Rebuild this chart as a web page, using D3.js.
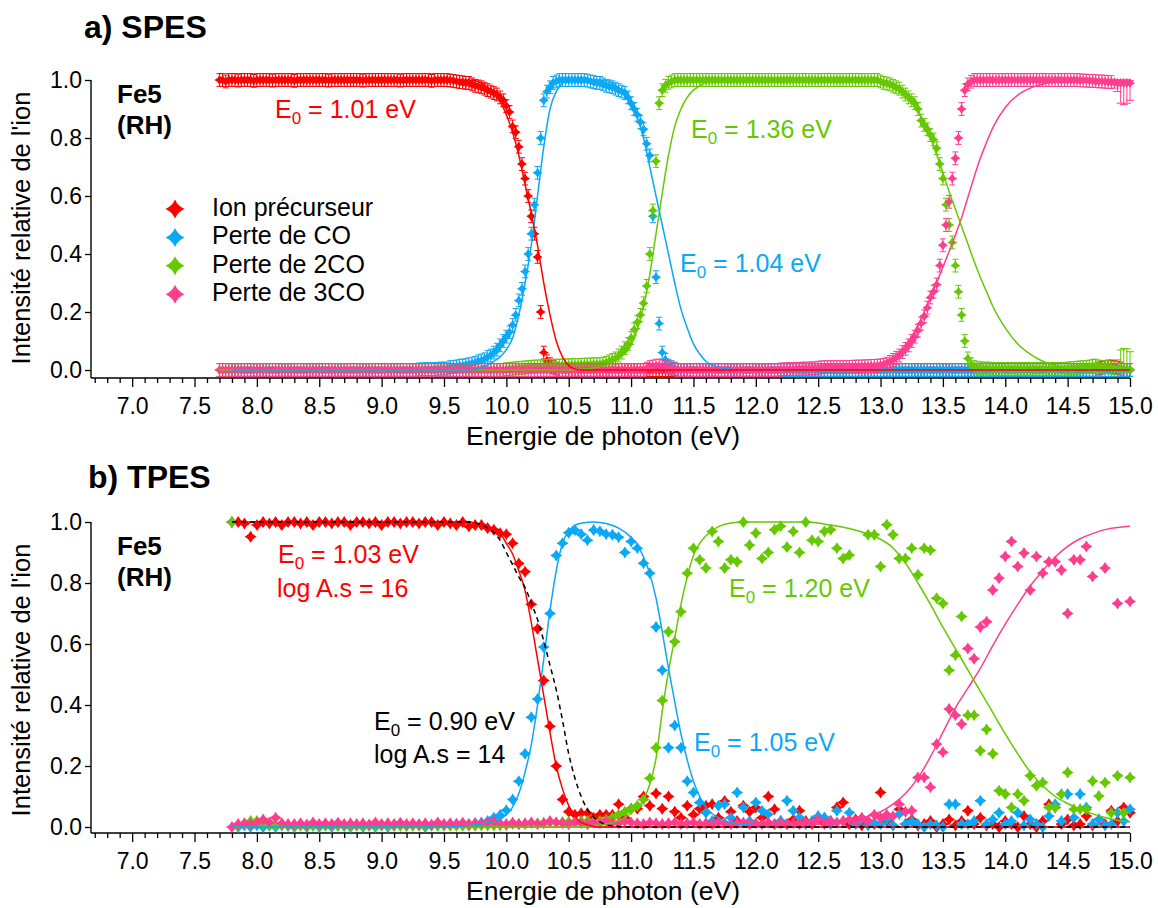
<!DOCTYPE html>
<html><head><meta charset="utf-8">
<script src="https://cdn.jsdelivr.net/npm/d3@7"></script>
<style>body{margin:0;background:#fff}svg{display:block}</style>
</head><body><svg id="chart" width="1158" height="908"></svg>
<script>
// ================= DATA =================
const seriesNames = ["Ion précurseur","Perte de CO","Perte de 2CO","Perte de 3CO"];
const xTickLabels = ["7.0","7.5","8.0","8.5","9.0","9.5","10.0","10.5","11.0","11.5","12.0","12.5","13.0","13.5","14.0","14.5","15.0"];
const yTickLabels = ["0.0","0.2","0.4","0.6","0.8","1.0"];

// ---- a) SPES : photon energies (eV)
const spesEnergy = [
7.7,7.725,7.75,7.775,7.8,7.825,7.85,7.875,7.9,7.925,7.95,7.975,
8,8.025,8.05,8.075,8.1,8.125,8.15,8.175,8.2,8.225,8.25,8.275,8.3,8.325,8.35,8.375,8.4,8.425,8.45,8.475,8.5,8.525,8.55,8.575,8.6,8.625,8.65,8.675,8.7,8.725,8.75,8.775,8.8,8.825,8.85,8.875,8.9,8.925,8.95,8.975,
9,9.025,9.05,9.075,9.1,9.125,9.15,9.175,9.2,9.225,9.25,9.275,9.3,9.325,9.35,9.375,9.4,9.425,9.45,9.475,9.5,9.525,9.55,9.575,9.6,9.625,9.65,9.675,9.7,9.725,9.75,9.775,9.8,9.825,9.85,9.875,9.9,9.925,9.95,9.975,
10,10.025,10.05,10.075,10.1,10.125,10.15,10.175,10.2,10.225,10.25,10.275,10.3,10.325,10.35,10.375,10.4,10.425,10.45,10.475,10.5,10.525,10.55,10.575,10.6,10.625,10.65,10.675,10.7,10.725,10.75,10.775,10.8,10.825,10.85,10.875,10.9,10.925,10.95,10.975,
11,11.025,11.05,11.075,11.1,11.125,11.15,11.175,11.2,11.225,11.25,11.275,11.3,11.325,11.35,11.375,11.4,11.425,11.45,11.475,11.5,11.525,11.55,11.575,11.6,11.625,11.65,11.675,11.7,11.725,11.75,11.775,11.8,11.825,11.85,11.875,11.9,11.925,11.95,11.975,
12,12.025,12.05,12.075,12.1,12.125,12.15,12.175,12.2,12.225,12.25,12.275,12.3,12.325,12.35,12.375,12.4,12.425,12.45,12.475,12.5,12.525,12.55,12.575,12.6,12.625,12.65,12.675,12.7,12.725,12.75,12.775,12.8,12.825,12.85,12.875,12.9,12.925,12.95,12.975,
13,13.025,13.05,13.075,13.1,13.125,13.15,13.175,13.2,13.225,13.25,13.275,13.3,13.325,13.35,13.375,13.4,13.425,13.45,13.475,13.5,13.525,13.55,13.575,13.6,13.625,13.65,13.675,13.7,13.725,13.75,13.775,13.8,13.825,13.85,13.875,13.9,13.925,13.95,13.975,
14,14.025,14.05,14.075,14.1,14.125,14.15,14.175,14.2,14.225,14.25,14.275,14.3,14.325,14.35,14.375,14.4,14.425,14.45,14.475,14.5,14.525,14.55,14.575,14.6,14.625,14.65,14.675,14.7,14.725,14.75,14.775,14.8,14.825,14.85,14.875,14.9,14.925,14.95,14.975,
15];

const spesIon = [
1,1,0.995,1,1,1,0.998,1,1,1,1,0.997,
1,1,1,1,1,0.998,1,1,1,1,1,1,0.997,1,1,1,1,1,1,1, 1,1,1,0.998,1,1,1,1,1,1,1,1,1,1,0.998,1,1,1,1,1,
1,1,1,1,1,1,0.998,1,1,1,1,1,1,1,1,1,0.997,1,1,1, 1,1,0.998,0.997,0.995,0.993,0.992,0.99,0.99,0.985,0.98,0.978,0.975,0.97,0.965,0.96,0.955,0.95,0.94,0.93,
0.91,0.89,0.84,0.82,0.77,0.71,0.66,0.6,0.53,0.47,0.39,0.2,0.06,0.03,0.02,0.01,0.005,0,0,0, 0,0,0,0,0,0,0,0,0,0,0,0,0,0,0,0,0,0,0,0,
0,0,0,0,0,0,0,0,0,0,0,0,0,0,0,0,0,0,0,0, 0,0,0,0,0,0,0,0,0,0,0,0,0,0,0,0,0,0,0,0,
0,0,0,0,0,0,0,0,0,0,0,0,0,0,0,0,0,0,0,0, 0,0,0,0,0,0,0,0,0,0,0,0,0,0,0,0,0,0,0,0,
0,0,0,0,0,0,0,0,0,0,0,0,0,0,0,0,0,0,0,0, 0,0,0,0,0,0,0,0,0,0,0,0,0,0,0,0,0,0,0,0,
0,0,0,0,0,0,0,0,0,0,0,0,0,0,0,0,0,0,0,0, 0,0,0,0,0,0,0,0,0,0,0.005,0.008,0.01,0.012,0.012,0.01,0.008,0.005,0,0,
0];

const spesCO = [
null,null,null,null,0,0,0,0,0,0,0,0,
0,0,0,0,0,0,0,0,0,0,0,0,0,0,0,0,0,0,0,0, 0,0,0,0,0,0,0,0,0,0,0,0,0,0,0,0,0,0,0,0,
0,0,0,0,0,0,0,0,0,0,0,0,0.002,0.002,0.003,0.003,0.003,0.004,0.004,0.005, 0.005,0.005,0.01,0.01,0.012,0.015,0.015,0.017,0.02,0.022,0.025,0.03,0.033,0.037,0.045,0.05,0.06,0.07,0.085,0.1,
0.115,0.13,0.155,0.19,0.24,0.28,0.34,0.4,0.47,0.57,0.68,0.8,0.93,0.96,0.975,0.99,0.995,1,1,1, 1,1,1,1,1,1,0.998,0.995,0.993,0.99,0.99,0.985,0.98,0.978,0.975,0.97,0.965,0.96,0.955,0.94,
0.92,0.9,0.88,0.855,0.83,0.78,0.74,0.53,0.32,0.16,0.06,0.035,0.015,0.01,0.005,0,0,0,0,0, 0,0,0,0,0,0,0,0,0,0,0,0,0,0,0,0,0,0,0,0,
0,0,0,0,0,0,0,0,0,0,0,0,0,0,0,0,0,0,0,0, 0,0,0,0,0,0,0,0,0,0,0,0,0,0,0,0,0,0,0,0,
0,0,0,0,0,0,0,0,0,0,0,0,0,0,0,0,0,0,0,0, 0,0,0,0,0,0,0,0,0,0,0,0,0,0,0,0,0,0,0,0,
0,0,0,0,0,0,0,0,0,0,0,0,0,0,0,0,0,0,0,0, 0,0,0,0,0,0,0,0,0,0,0,0,0,0,0,0,0,0,0,0,
0];

const spes2CO = [
0,0,0,0,0,0,0,0,0,0,0,0,
0,0,0,0,0,0,0,0,0,0,0,0,0,0,0,0,0,0,0,0, 0,0,0,0,0,0,0,0,0,0,0,0,0,0,0,0,0,0,0,0,
0,0,0,0,0,0,0,0,0,0,0,0,0,0,0,0,0,0,0,0, 0,0,0,0,0,0,0,0,0,0,0,0,0,0,0,0,0,0,0,0,
0.003,0.004,0.005,0.006,0.007,0.008,0.009,0.01,0.011,0.012,0.012,0.013,0.013,0.014,0.014,0.015,0.015,0.015,0.016,0.016, 0.016,0.017,0.017,0.017,0.018,0.018,0.019,0.019,0.02,0.02,0.02,0.022,0.025,0.03,0.035,0.04,0.05,0.06,0.075,0.09,
0.11,0.14,0.165,0.19,0.23,0.29,0.4,0.55,0.72,0.92,0.965,0.98,0.99,0.995,1,1,1,1,1,1, 1,1,1,1,1,1,1,1,1,1,1,1,1,1,1,1,1,1,1,1,
1,1,1,1,1,1,1,1,1,1,1,1,1,1,1,1,1,1,1,1, 1,1,1,1,1,1,1,1,1,1,1,1,1,1,1,1,1,1,1,1,
0.995,0.99,0.988,0.985,0.98,0.975,0.97,0.96,0.95,0.94,0.93,0.92,0.9,0.86,0.845,0.83,0.81,0.795,0.765,0.71, 0.66,0.57,0.5,0.44,0.36,0.27,0.19,0.1,0.04,0.02,0.01,0.008,0.006,0.005,0.005,0.005,0.004,0.004,0.004,0.004,
0.004,0.004,0.004,0.004,0.004,0.004,0.004,0.004,0.004,0.004,0.004,0.004,0.004,0.004,0.004,0.004,0.004,0.004,0.004,0.004, 0.005,0.006,0.007,0.008,0.009,0.01,0.01,0.012,0.015,0.015,0.012,0.01,0.01,0.01,0.008,0.006,0.005,0.004,0.004,0.003,
0.003];

const spes3CO = [
0,0,0,0,0,0,0,0,0,0,0,0,
0,0,0,0,0,0,0,0,0,0,0,0,0,0,0,0,0,0,0,0, 0,0,0,0,0,0,0,0,0,0,0,0,0,0,0,0,0,0,0,0,
0,0,0,0,0,0,0,0,0,0,0,0,0,0,0,0,0,0,0,0, 0,0,0,0,0,0,0,0,0,0,0,0,0,0,0,0,0,0,0,0,
0,0,0,0,0,0,0,0,0,0,0,0,0,0,0,0,0,0,0,0, 0,0,0,0,0,0,0,0,0,0,0,0,0,0,0,0,0,0,0,0,
0,0,0,0,0,0.005,0.01,0.012,0.015,0.015,0.012,0.01,0.008,0.005,0.003,0,0,0,0,0, 0,0,0,0,0,0,0,0,0,0,0,0,0,0,0,0,0,0,0,0,
0,0,0,0,0,0,0,0,0.002,0.002,0.003,0.003,0.003,0.004,0.004,0.005,0.005,0.005,0.006,0.006, 0.008,0.009,0.01,0.01,0.01,0.01,0.01,0.01,0.01,0.01,0.011,0.011,0.012,0.012,0.012,0.013,0.013,0.014,0.014,0.015,
0.016,0.018,0.022,0.028,0.035,0.042,0.05,0.062,0.073,0.085,0.1,0.115,0.135,0.16,0.185,0.215,0.25,0.27,0.295,0.36, 0.43,0.5,0.58,0.66,0.73,0.8,0.9,0.965,0.985,0.994,1,1,1,1,1,1,1,1,1,1,
1,1,1,1,1,1,1,1,1,1,1,1,1,1,1,1,1,1,1,1, 1,1,1,1,0.999,0.998,0.998,0.997,0.997,0.996,0.995,0.995,0.994,0.993,0.993,0.992,0.99,0.99,0.99,0.99,
0.99];

// large error bars at the end of the SPES scan: [series, energy, down, up]
const spesLargeErr = [
["3CO",14.875,0.02,0.005],["3CO",14.9,0.03,0.005],["3CO",14.925,0.07,0.008],["3CO",14.95,0.075,0.008],["3CO",14.975,0.07,0.008],["3CO",15,0.06,0.008],
["2CO",14.9,0.003,0.03],["2CO",14.925,0.003,0.065],["2CO",14.95,0.003,0.07],["2CO",14.975,0.003,0.07],["2CO",15,0.003,0.06]];

// fitted curves (energy, relative intensity)
const spesFitIon = [[7.7,1],[9.7,1],[9.8,0.99],[9.85,0.975],[9.9,0.955],[9.95,0.925],[10,0.88],[10.05,0.82],[10.1,0.74],[10.15,0.64],[10.2,0.54],[10.25,0.43],[10.3,0.3],[10.35,0.19],[10.4,0.1],[10.45,0.045],[10.5,0.015],[10.55,0.003],[10.6,0],[15,0]];
const spesFitCO = [[7.8,0],[9.7,0],[9.8,0.008],[9.9,0.03],[9.95,0.045],[10,0.07],[10.05,0.11],[10.1,0.19],[10.15,0.3],[10.2,0.43],[10.25,0.6],[10.3,0.77],[10.35,0.9],[10.4,0.96],[10.45,0.99],[10.5,1],[10.75,1],[10.85,0.99],[10.95,0.95],[11,0.92],[11.05,0.87],[11.1,0.8],[11.15,0.7],[11.2,0.6],[11.25,0.5],[11.3,0.4],[11.35,0.3],[11.4,0.21],[11.45,0.145],[11.5,0.09],[11.55,0.055],[11.6,0.03],[11.7,0.01],[11.8,0.002],[11.9,0],[15,0]];
const spesFit2CO = [[7.7,0],[10.4,0],[10.6,0.003],[10.7,0.007],[10.8,0.017],[10.9,0.04],[11,0.085],[11.05,0.14],[11.1,0.22],[11.15,0.33],[11.2,0.47],[11.25,0.61],[11.3,0.74],[11.35,0.84],[11.4,0.9],[11.45,0.94],[11.5,0.965],[11.55,0.98],[11.6,0.992],[11.7,1],[13,1],[13.1,0.99],[13.2,0.95],[13.3,0.895],[13.4,0.8],[13.5,0.68],[13.55,0.615],[13.6,0.555],[13.65,0.495],[13.7,0.435],[13.75,0.375],[13.8,0.32],[13.85,0.27],[13.9,0.22],[14,0.145],[14.1,0.09],[14.2,0.055],[14.3,0.03],[14.4,0.015],[14.5,0.007],[14.6,0.003],[14.7,0],[15,0]];
const spesFit3CO = [[7.7,0],[12.4,0],[12.7,0.004],[12.9,0.012],[13,0.024],[13.1,0.045],[13.2,0.085],[13.3,0.155],[13.4,0.25],[13.5,0.355],[13.6,0.465],[13.65,0.525],[13.7,0.595],[13.75,0.665],[13.8,0.73],[13.85,0.785],[13.9,0.835],[14,0.905],[14.1,0.948],[14.2,0.972],[14.3,0.986],[14.4,0.994],[14.5,0.998],[14.6,1],[15,1]];
const spesE0 = ["1.01","1.04","1.36"];

// ---- b) TPES : photon energies (eV)
const tpesEnergy = [
7.8,7.85,7.9,7.95,
8,8.05,8.1,8.15,8.2,8.25,8.3,8.35,8.4,8.45,8.5,8.55,8.6,8.65,8.7,8.75,8.8,8.85,8.9,8.95,
9,9.05,9.1,9.15,9.2,9.25,9.3,9.35,9.4,9.45,9.5,9.55,9.6,9.65,9.7,9.75,9.8,9.85,9.9,9.95,
10,10.05,10.1,10.15,10.2,10.25,10.3,10.35,10.4,10.45,10.5,10.55,10.6,10.65,10.7,10.75,10.8,10.85,10.9,10.95,
11,11.05,11.1,11.15,11.2,11.25,11.3,11.35,11.4,11.45,11.5,11.55,11.6,11.65,11.7,11.75,11.8,11.85,11.9,11.95,
12,12.05,12.1,12.15,12.2,12.25,12.3,12.35,12.4,12.45,12.5,12.55,12.6,12.65,12.7,12.75,12.8,12.85,12.9,12.95,
13,13.05,13.1,13.15,13.2,13.25,13.3,13.35,13.4,13.45,13.5,13.55,13.6,13.65,13.7,13.75,13.8,13.85,13.9,13.95,
14,14.05,14.1,14.15,14.2,14.25,14.3,14.35,14.4,14.45,14.5,14.55,14.6,14.65,14.7,14.75,14.8,14.85,14.9,14.95,
15];

const tpesIon = [
1,1,0.995,0.952,
0.99,1,0.995,1,0.99,1,1,0.995,1,0.99,1,1,0.995,1,1,0.99,1,1,0.995,1,
0.99,1,1,0.995,1,1,0.995,1,1,0.99,1,0.995,0.99,1,0.985,0.99,0.99,0.98,0.975,0.963,
0.96,0.93,0.864,0.837,0.73,0.65,0.48,0.33,0.2,0.09,0.05,0.04,0.045,0.045,0.03,0.04,0.04,0.04,0.075,0.03,
0.06,0.06,0.1,0.07,0.11,0.06,0.1,0.05,0.03,0.07,0.04,0.06,0.07,0.075,0.03,0.085,0.05,0.02,0.07,0.05,
0.064,0.03,0.1,0.058,0.02,0.01,0.025,0.053,0.02,0.01,0.03,0.015,0.02,0.064,0.08,0.01,0.025,0.005,0.02,0.01,
0.113,0.02,0.005,0.058,0.01,0.025,0.005,0.01,0.02,0,0.01,0.025,0.005,0.02,0.053,0.01,0.03,0.005,0.01,0,
0.02,0.01,0,0.036,0.01,0,0.02,0.075,0.064,0.01,0.025,0.005,0.01,0.036,0.005,0.025,0.01,0.053,0.02,0.064,
0.047];

const tpesCO = [
1,0,0.005,0,
0.005,0,0.004,0,0.005,0.003,0,0.005,0,0.004,0,0.005,0,0.004,0.003,0,0.005,0,0.004,0,
0.005,0,0.004,0.005,0.003,0.005,0.005,0,0.005,0.005,0.008,0.006,0.01,0.008,0.01,0.012,0.015,0.02,0.03,0.039,
0.055,0.09,0.15,0.24,0.36,0.42,0.59,0.7,0.89,0.93,0.965,0.974,0.96,0.94,0.974,0.97,0.96,0.958,0.95,0.9,
0.936,0.914,0.865,0.832,0.656,0.514,0.26,0.333,0.26,0.15,0.113,0.08,0.047,0.02,0.07,0.075,0.03,0.113,0.064,0.02,
0.08,0.053,0.042,0.01,0.02,0.086,0.053,0.031,0.01,0.02,0.036,0.031,0.01,0.053,0.02,0.047,0.01,0.025,0.005,0.014,
0.01,0.025,0.005,0.042,0.01,0.02,0.009,0,0.009,0.005,0,0.075,0.075,0.01,0.009,0.02,0.086,0.01,0.025,0.047,
0.009,0.02,0.047,0.005,0.025,0.01,0,0.036,0.075,0.02,0.108,0.03,0.108,0.064,0.01,0.025,0.005,0.009,0.047,0.02,
0.058];

const tpes2CO = [
1,0.005,0.01,0.02,
0.02,0.01,0.005,0.005,0.005,0.005,0.004,0.004,0.004,0.004,0.004,0.004,0.004,0.004,0.004,0.004,0.004,0.004,0.004,0.004,
0.004,0.004,0.004,0.004,0.004,0.004,0.004,0.004,0.004,0.004,0.004,0.004,0.004,0.004,0.004,0.004,0.005,0.005,0.005,0.005,
0.005,0.01,0.01,0.01,0.012,0.012,0.014,0.015,0.015,0.016,0.017,0.018,0.02,0.02,0.02,0.02,0.025,0.03,0.04,0.05,
0.06,0.07,0.09,0.16,0.26,0.415,0.64,0.607,0.706,0.832,0.914,0.876,0.849,0.969,0.936,0.849,0.876,0.87,1,0.925,
0.964,0.88,0.9,0.975,0.986,0.918,0.969,0.9,1,0.94,0.936,0.969,0.975,0.914,0.88,0.892,null,null,0.958,0.958,
0.854,0.991,0.958,0.88,0.88,0.914,0.827,0.914,0.907,0.75,0.733,0.514,0.563,0.69,0.366,0.366,0.25,0.32,0.24,0.119,
0.108,0.064,0.108,0.086,0.168,0.135,0.146,0.064,0.064,0.108,0.179,0.058,0.058,0.058,0.151,0.102,0.146,0.047,0.168,0.047,
0.162];

const tpes3CO = [
0,0.01,0.012,0.01,
0.015,0.025,0.015,0.03,0.012,0.01,0.01,0.012,0.008,0.015,0.01,0.012,0.01,0.014,0.01,0.012,0.01,0.012,0.008,0.015,
0.01,0.012,0.01,0.014,0.01,0.012,0.01,0.012,0.008,0.015,0.01,0.012,0.01,0.014,0.01,0.012,0.012,0.015,0.02,0.012,
0.01,0.015,0.01,0.012,0.015,0.01,0.012,0.02,0.015,0.012,0.01,0.015,0.012,0.01,0.015,0.012,0.02,0.015,0.012,0.02,
0.015,0.012,0.01,0.015,0.012,0.01,0.012,0.015,0.01,0.012,0.015,0.01,0.012,0.01,0.015,0.012,0.01,0.012,0.015,0.01,
0.012,0.01,0.015,0.01,0.012,0.01,0.012,0.01,0.015,0.012,0.025,0.01,0.02,0.015,0.02,0.025,0.02,0.03,0.02,0.04,
0.03,0.04,0.035,0.075,0.05,0.053,0.162,0.162,0.13,0.272,0.245,0.387,0.366,0.338,0.585,0.552,0.656,0.673,0.777,0.816,
0.887,0.936,0.854,0.898,0.777,0.887,0.832,0.87,0.87,0.843,0.7,0.876,0.876,0.92,0.821,null,0.849,null,0.733,null,
0.739];

const tpesFitIon = [[7.8,1],[9.7,1],[9.8,0.99],[9.9,0.975],[9.95,0.963],[10,0.93],[10.05,0.895],[10.1,0.84],[10.15,0.775],[10.2,0.67],[10.25,0.55],[10.3,0.43],[10.35,0.31],[10.4,0.2],[10.45,0.125],[10.5,0.07],[10.55,0.035],[10.6,0.015],[10.65,0.007],[10.7,0.002],[10.75,0],[15,0]];
const tpesFitIonAlt = [[7.8,1],[9.7,1],[9.8,0.99],[9.9,0.965],[9.95,0.94],[10,0.9],[10.05,0.86],[10.1,0.82],[10.15,0.785],[10.2,0.735],[10.25,0.68],[10.3,0.61],[10.35,0.53],[10.4,0.45],[10.45,0.35],[10.5,0.24],[10.55,0.16],[10.6,0.1],[10.65,0.058],[10.7,0.033],[10.75,0.017],[10.8,0.008],[10.9,0.002],[11,0],[15,0]];
const tpesFitCO = [[7.8,0],[9.5,0],[9.7,0.005],[9.8,0.01],[9.9,0.018],[9.95,0.025],[10,0.04],[10.05,0.065],[10.1,0.11],[10.15,0.18],[10.2,0.27],[10.25,0.4],[10.3,0.55],[10.35,0.71],[10.4,0.84],[10.45,0.93],[10.5,0.97],[10.55,0.99],[10.6,0.996],[10.7,1],[10.8,0.995],[10.9,0.98],[11,0.95],[11.05,0.925],[11.1,0.885],[11.15,0.83],[11.2,0.75],[11.25,0.64],[11.3,0.52],[11.35,0.41],[11.4,0.305],[11.45,0.22],[11.5,0.15],[11.55,0.1],[11.6,0.065],[11.7,0.03],[11.8,0.014],[11.9,0.008],[12,0.004],[12.2,0],[15,0]];
const tpesFit2CO = [[7.8,0],[10.5,0],[10.7,0.005],[10.8,0.01],[10.9,0.02],[11,0.045],[11.1,0.09],[11.15,0.14],[11.2,0.225],[11.25,0.38],[11.3,0.51],[11.35,0.62],[11.4,0.73],[11.45,0.82],[11.5,0.89],[11.55,0.93],[11.6,0.955],[11.7,0.985],[11.8,0.997],[11.9,1],[12.4,1],[12.6,0.99],[12.8,0.973],[12.95,0.953],[13.1,0.915],[13.2,0.865],[13.3,0.8],[13.4,0.73],[13.5,0.655],[13.6,0.585],[13.7,0.515],[13.8,0.445],[13.9,0.375],[14,0.305],[14.1,0.24],[14.2,0.18],[14.3,0.135],[14.4,0.1],[14.5,0.077],[14.6,0.058],[14.7,0.043],[14.8,0.031],[14.9,0.022],[15,0.016]];
const tpesFit3CO = [[7.8,0],[11.5,0],[12,0.004],[12.4,0.008],[12.6,0.013],[12.8,0.025],[12.9,0.035],[13,0.05],[13.1,0.075],[13.2,0.11],[13.3,0.16],[13.4,0.23],[13.5,0.31],[13.6,0.39],[13.7,0.455],[13.8,0.52],[13.9,0.595],[14,0.665],[14.1,0.73],[14.2,0.79],[14.3,0.84],[14.4,0.885],[14.5,0.92],[14.6,0.945],[14.7,0.962],[14.8,0.975],[14.9,0.982],[15,0.986]];
const tpesE0 = ["1.03","1.05","1.20","0.90"];
const tpesLogAs = ["16","14"];

// ================= STYLE / LAYOUT =================
const COLORS = ["#ff0000","#0aa8f5","#66c800","#ff3d8e"];
const KEYS = ["ion","CO","2CO","3CO"];
const FONT = '"Liberation Sans", Arial, Helvetica, sans-serif';
const svg = d3.select("#chart").style("font-family", FONT);
svg.append("rect").attr("width",1158).attr("height",908).attr("fill","#fff");

const x = d3.scaleLinear().domain([6.67, 15]).range([91, 1130]);
const xMajor = xTickLabels.map(Number);
const xMinor = d3.range(67, 151).map(d => d / 10).filter(v => !xMajor.includes(v));

function starPath(r) {
  const k = r * 0.3;
  return `M0,${-r}Q${k},${-k} ${r},0Q${k},${k} 0,${r}Q${-k},${k} ${-r},0Q${-k},${-k} 0,${-r}Z`;
}

// data length sanity check (visible only if something is wrong)
const msgs = [];
[[spesEnergy,[spesIon,spesCO,spes2CO,spes3CO],"spes"],[tpesEnergy,[tpesIon,tpesCO,tpes2CO,tpes3CO],"tpes"]].forEach(([e,arr,n]) => {
  arr.forEach((a,i) => { if (a.length !== e.length) msgs.push(n + i + ":" + a.length + "/" + e.length); });
});
if (msgs.length) svg.append("text").attr("x",400).attr("y",20).attr("fill","magenta").attr("font-size",14).text(msgs.join("  "));

function e0Label(g, xp, yp, color, val) {
  const t = g.append("text").attr("x", xp).attr("y", yp).attr("fill", color).attr("font-size", 25);
  t.append("tspan").text("E");
  t.append("tspan").attr("font-size", 17).attr("dy", 6).text("0");
  t.append("tspan").attr("dy", -6).text(" = " + val + " eV");
}

function panel(p) {
  const y = d3.scaleLinear().domain([0, 1]).range([p.zeroY, p.oneY]);
  const g = svg.append("g");

  // axes
  const ya = g.append("g").attr("transform", "translate(91,0)")
    .call(d3.axisLeft(y).tickValues(yTickLabels.map(Number)).tickFormat(d3.format(".1f")).tickSize(6).tickPadding(3));
  const xa = g.append("g").attr("transform", `translate(0,${p.axisY})`)
    .call(d3.axisBottom(x).tickValues(xMajor).tickFormat(d3.format(".1f")).tickSize(9).tickPadding(11));
  const xm = g.append("g").attr("transform", `translate(0,${p.axisY})`)
    .call(d3.axisBottom(x).tickValues(xMinor).tickFormat("").tickSize(5));
  [ya, xa, xm].forEach(a => {
    a.select(".domain").remove();
    a.selectAll("line").attr("stroke", "#000").attr("stroke-width", 1.3);
    a.selectAll("text").attr("font-size", 23).attr("fill", "#000").attr("font-family", FONT);
  });
  g.append("line").attr("x1", 91).attr("x2", 91).attr("y1", p.oneY).attr("y2", p.axisY).attr("stroke", "#000").attr("stroke-width", 1.4);
  g.append("line").attr("x1", 91).attr("x2", 1130).attr("y1", p.axisY).attr("y2", p.axisY).attr("stroke", "#000").attr("stroke-width", 1.4);

  // markers
  p.values.forEach((vals, si) => {
    const col = COLORS[si];
    const pts = p.energy.map((e, i) => ({ e, v: vals[i] })).filter(d => d.v !== null && d.v !== undefined);
    const sg = g.append("g");
    if (p.err) {
      const big = new Map((p.largeErr || []).filter(d => d[0] === KEYS[si]).map(d => [d[1], d]));
      sg.append("g").selectAll("path").data(pts).join("path")
        .attr("d", d => {
          const b = big.get(d.e);
          const lo = y(d.v - (b ? b[2] : p.err)), hi = y(d.v + (b ? b[3] : p.err));
          const cx = x(d.e), w = b ? 4 : 3;
          return `M${cx},${lo}V${hi}M${cx - w},${lo}H${cx + w}M${cx - w},${hi}H${cx + w}`;
        })
        .attr("stroke", col).attr("stroke-width", 1).attr("fill", "none");
    }
    sg.append("g").selectAll("path").data(pts).join("path")
      .attr("d", starPath(p.r))
      .attr("transform", d => `translate(${x(d.e)},${y(d.v)})`)
      .attr("fill", col);
  });

  // fits
  const line = d3.line().x(d => x(d[0])).y(d => y(d[1])).curve(d3.curveMonotoneX);
  p.fits.forEach(f => {
    g.append("path").attr("d", line(f.data)).attr("fill", "none")
      .attr("stroke", f.color).attr("stroke-width", 1.5)
      .attr("stroke-dasharray", f.dash || null);
  });

  // titles
  g.append("text").attr("x", p.titleX).attr("y", p.titleY).attr("font-size", 32).attr("font-weight", "bold").text(p.title);
  g.append("text").attr("x", 117).attr("y", p.fe5Y).attr("font-size", 26).attr("font-weight", "bold").text("Fe5");
  g.append("text").attr("x", 117).attr("y", p.fe5Y + 31).attr("font-size", 26).attr("font-weight", "bold").text("(RH)");
  g.append("text").attr("x", 603).attr("y", p.axisY + 67).attr("text-anchor", "middle").attr("font-size", 26.5).text("Energie de photon (eV)");
  g.append("text").attr("transform", `translate(30,${p.ylabY}) rotate(-90)`).attr("text-anchor", "middle").attr("font-size", 25.5).text("Intensité relative de l'ion");
  return g;
}

// ---- panel a) SPES
const gA = panel({
  oneY: 80, zeroY: 370, axisY: 378, r: 5, err: 0.022, largeErr: spesLargeErr,
  energy: spesEnergy, values: [spesIon, spesCO, spes2CO, spes3CO],
  fits: [
    { data: spesFit3CO, color: COLORS[3] }, { data: spesFit2CO, color: COLORS[2] },
    { data: spesFitCO, color: COLORS[1] }, { data: spesFitIon, color: COLORS[0] }],
  title: "a) SPES", titleX: 84, titleY: 38, fe5Y: 103, ylabY: 228
});
e0Label(gA, 275, 118, COLORS[0], spesE0[0]);
e0Label(gA, 680, 272, COLORS[1], spesE0[1]);
e0Label(gA, 691, 138, COLORS[2], spesE0[2]);
// legend
const leg = gA.append("g");
seriesNames.forEach((n, i) => {
  const by = 216 + i * 28.4;
  leg.append("path").attr("d", starPath(9.5)).attr("transform", `translate(175,${by - 7})`).attr("fill", COLORS[i]);
  leg.append("text").attr("x", 212).attr("y", by).attr("font-size", 25).text(n);
});

// ---- panel b) TPES
const gB = panel({
  oneY: 522, zeroY: 827, axisY: 833, r: 6, err: 0,
  energy: tpesEnergy, values: [tpesIon, tpesCO, tpes2CO, tpes3CO],
  fits: [
    { data: tpesFit3CO, color: COLORS[3] }, { data: tpesFit2CO, color: COLORS[2] },
    { data: tpesFitCO, color: COLORS[1] }, { data: tpesFitIon, color: COLORS[0] },
    { data: tpesFitIonAlt, color: "#000", dash: "5,4" }],
  title: "b) TPES", titleX: 88, titleY: 488, fe5Y: 555, ylabY: 680
});
e0Label(gB, 278, 563, COLORS[0], tpesE0[0]);
gB.append("text").attr("x", 277).attr("y", 597).attr("fill", COLORS[0]).attr("font-size", 25).text("log A.s = " + tpesLogAs[0]);
e0Label(gB, 374, 730, "#000", tpesE0[3]);
gB.append("text").attr("x", 374).attr("y", 763).attr("fill", "#000").attr("font-size", 25).text("log A.s = " + tpesLogAs[1]);
e0Label(gB, 729, 597, COLORS[2], tpesE0[2]);
e0Label(gB, 694, 751, COLORS[1], tpesE0[1]);
</script>
</body></html>
